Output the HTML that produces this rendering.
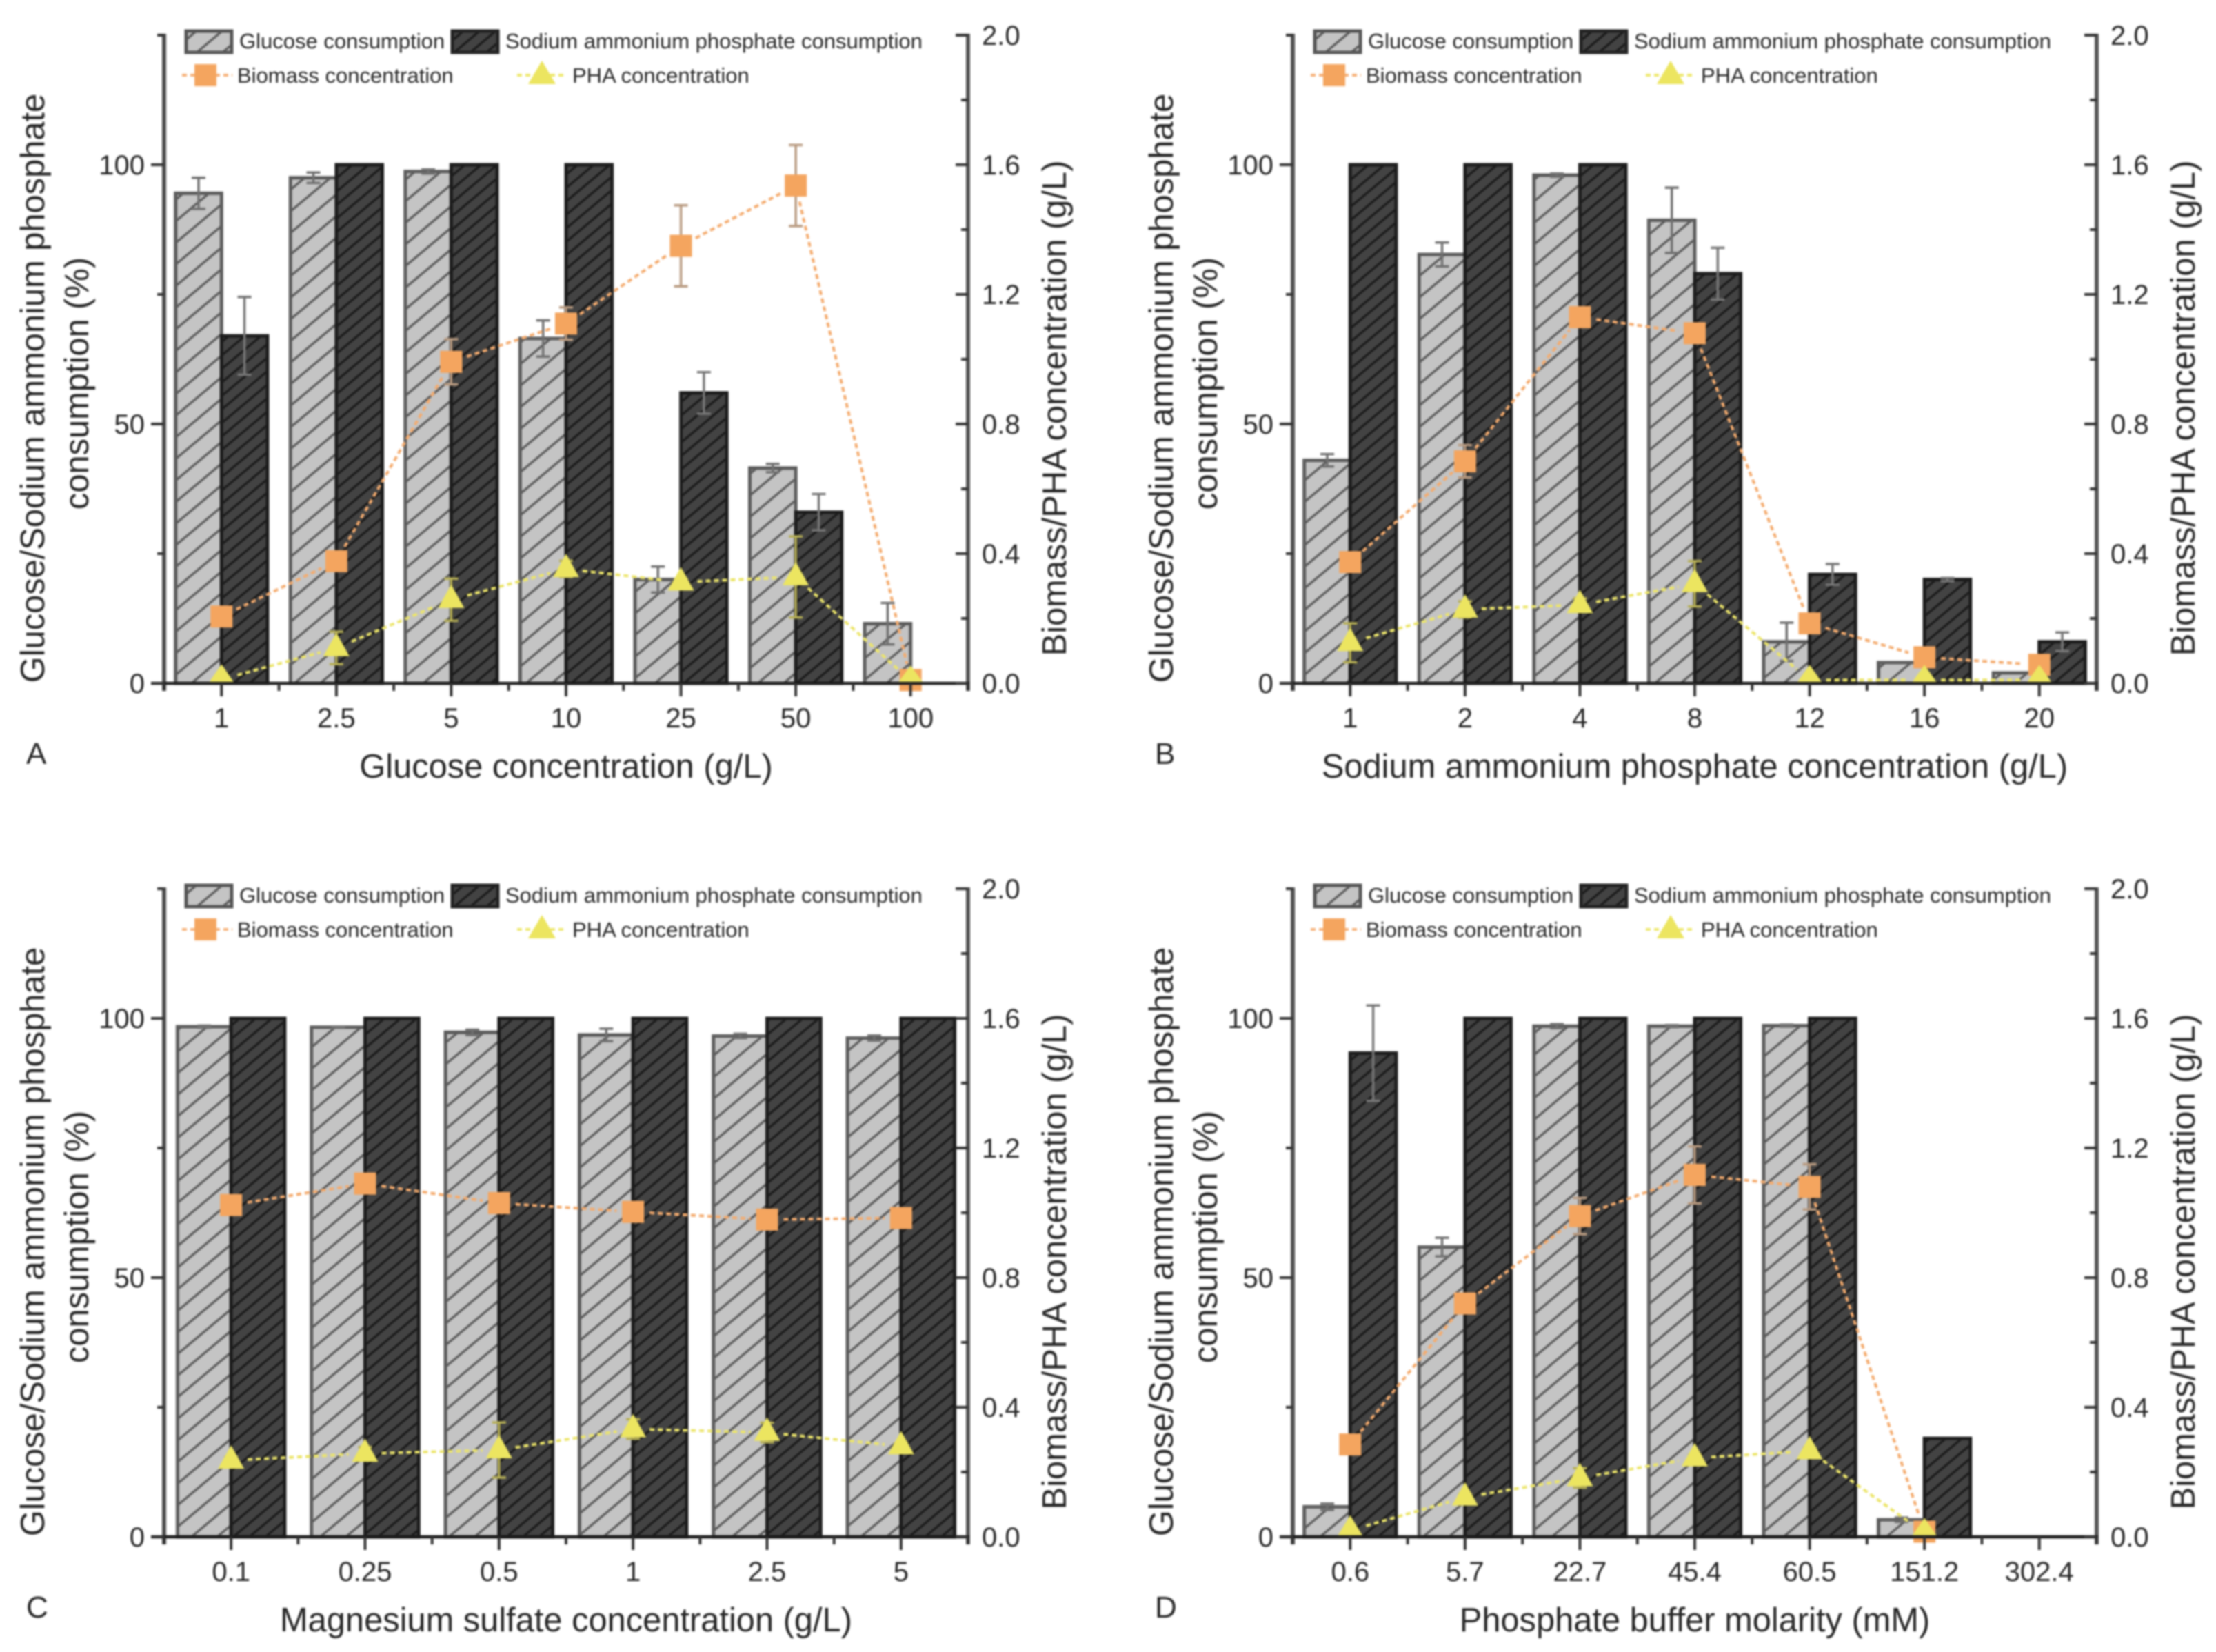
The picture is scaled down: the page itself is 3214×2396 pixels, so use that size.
<!DOCTYPE html>
<html lang="en">
<head>
<meta charset="utf-8">
<title>Consumption and concentration charts</title>
<style>
html,body{margin:0;padding:0;background:#fff;}
svg{display:block;filter:blur(1.2px);}
text{font-family:"Liberation Sans",sans-serif;fill:#262626;}
.tick{font-size:40px;}
.title{font-size:48.8px;}
.leg{font-size:31px;}
.letter{font-size:44px;}
</style>
</head>
<body>
<svg id="figure" xmlns="http://www.w3.org/2000/svg" width="3214" height="2396" viewBox="0 0 3214 2396">
<defs>
<pattern id="hatch-light" patternUnits="userSpaceOnUse" width="24" height="24" patternTransform="rotate(-40)">
<rect width="24" height="24" fill="#c4c4c4"/>
<rect x="0" y="0" width="24" height="3.2" fill="#585858"/>
</pattern>
<pattern id="hatch-dark" patternUnits="userSpaceOnUse" width="15" height="15" patternTransform="rotate(-40)">
<rect width="15" height="15" fill="#434343"/>
<rect x="0" y="0" width="15" height="3.2" fill="#1a1a1a"/>
</pattern>
</defs>
<rect width="3214" height="2396" fill="#fff"/>

<g id="panel-a" transform="translate(0,0)">
<g class="marks"></g>
<text class="title" transform="translate(64,563) rotate(-90)" text-anchor="middle">Glucose/Sodium ammonium phosphate</text>
<text class="title" transform="translate(128,556) rotate(-90)" text-anchor="middle">consumption (%)</text>
<text class="title" transform="translate(1546,592) rotate(-90)" text-anchor="middle">Biomass/PHA concentration (g/L)</text>
<text class="title" x="821" y="1128" text-anchor="middle">Glucose concentration (g/L)</text>
<text class="letter" x="38" y="1108">A</text>
<g>
<rect x="270" y="45" width="66" height="31" fill="url(#hatch-light)" stroke="#555" stroke-width="5"/>
<text class="leg" x="347" y="70">Glucose consumption</text>
<rect x="656" y="45" width="66" height="31" fill="url(#hatch-dark)" stroke="#222" stroke-width="5"/>
<text class="leg" x="733" y="70">Sodium ammonium phosphate consumption</text>
<line x1="264" y1="109" x2="337" y2="109" stroke="#f6b27a" stroke-width="4" stroke-dasharray="7 5"/>
<rect x="282" y="93" width="32" height="32" fill="#f4a55f"/>
<text class="leg" x="344" y="120">Biomass concentration</text>
<line x1="750" y1="109" x2="822" y2="109" stroke="#eee870" stroke-width="4" stroke-dasharray="7 5"/>
<polygon points="786,88 806,122 766,122" fill="#ece560"/>
<text class="leg" x="830" y="120">PHA concentration</text>
</g>
</g>

<g id="panel-b" transform="translate(1637,0)">
<g class="marks"></g>
<text class="title" transform="translate(64,563) rotate(-90)" text-anchor="middle">Glucose/Sodium ammonium phosphate</text>
<text class="title" transform="translate(128,556) rotate(-90)" text-anchor="middle">consumption (%)</text>
<text class="title" transform="translate(1546,592) rotate(-90)" text-anchor="middle">Biomass/PHA concentration (g/L)</text>
<text class="title" x="821" y="1128" text-anchor="middle">Sodium ammonium phosphate concentration (g/L)</text>
<text class="letter" x="38" y="1108">B</text>
<g>
<rect x="270" y="45" width="66" height="31" fill="url(#hatch-light)" stroke="#555" stroke-width="5"/>
<text class="leg" x="347" y="70">Glucose consumption</text>
<rect x="656" y="45" width="66" height="31" fill="url(#hatch-dark)" stroke="#222" stroke-width="5"/>
<text class="leg" x="733" y="70">Sodium ammonium phosphate consumption</text>
<line x1="264" y1="109" x2="337" y2="109" stroke="#f6b27a" stroke-width="4" stroke-dasharray="7 5"/>
<rect x="282" y="93" width="32" height="32" fill="#f4a55f"/>
<text class="leg" x="344" y="120">Biomass concentration</text>
<line x1="750" y1="109" x2="822" y2="109" stroke="#eee870" stroke-width="4" stroke-dasharray="7 5"/>
<polygon points="786,88 806,122 766,122" fill="#ece560"/>
<text class="leg" x="830" y="120">PHA concentration</text>
</g>
</g>

<g id="panel-c" transform="translate(0,1238)">
<g class="marks"></g>
<text class="title" transform="translate(64,563) rotate(-90)" text-anchor="middle">Glucose/Sodium ammonium phosphate</text>
<text class="title" transform="translate(128,556) rotate(-90)" text-anchor="middle">consumption (%)</text>
<text class="title" transform="translate(1546,592) rotate(-90)" text-anchor="middle">Biomass/PHA concentration (g/L)</text>
<text class="title" x="821" y="1128" text-anchor="middle">Magnesium sulfate concentration (g/L)</text>
<text class="letter" x="38" y="1108">C</text>
<g transform="translate(0,1)">
<rect x="270" y="45" width="66" height="31" fill="url(#hatch-light)" stroke="#555" stroke-width="5"/>
<text class="leg" x="347" y="70">Glucose consumption</text>
<rect x="656" y="45" width="66" height="31" fill="url(#hatch-dark)" stroke="#222" stroke-width="5"/>
<text class="leg" x="733" y="70">Sodium ammonium phosphate consumption</text>
<line x1="264" y1="109" x2="337" y2="109" stroke="#f6b27a" stroke-width="4" stroke-dasharray="7 5"/>
<rect x="282" y="93" width="32" height="32" fill="#f4a55f"/>
<text class="leg" x="344" y="120">Biomass concentration</text>
<line x1="750" y1="109" x2="822" y2="109" stroke="#eee870" stroke-width="4" stroke-dasharray="7 5"/>
<polygon points="786,88 806,122 766,122" fill="#ece560"/>
<text class="leg" x="830" y="120">PHA concentration</text>
</g>
</g>

<g id="panel-d" transform="translate(1637,1238)">
<g class="marks"></g>
<text class="title" transform="translate(64,563) rotate(-90)" text-anchor="middle">Glucose/Sodium ammonium phosphate</text>
<text class="title" transform="translate(128,556) rotate(-90)" text-anchor="middle">consumption (%)</text>
<text class="title" transform="translate(1546,592) rotate(-90)" text-anchor="middle">Biomass/PHA concentration (g/L)</text>
<text class="title" x="821" y="1128" text-anchor="middle">Phosphate buffer molarity (mM)</text>
<text class="letter" x="38" y="1108">D</text>
<g transform="translate(0,1)">
<rect x="270" y="45" width="66" height="31" fill="url(#hatch-light)" stroke="#555" stroke-width="5"/>
<text class="leg" x="347" y="70">Glucose consumption</text>
<rect x="656" y="45" width="66" height="31" fill="url(#hatch-dark)" stroke="#222" stroke-width="5"/>
<text class="leg" x="733" y="70">Sodium ammonium phosphate consumption</text>
<line x1="264" y1="109" x2="337" y2="109" stroke="#f6b27a" stroke-width="4" stroke-dasharray="7 5"/>
<rect x="282" y="93" width="32" height="32" fill="#f4a55f"/>
<text class="leg" x="344" y="120">Biomass concentration</text>
<line x1="750" y1="109" x2="822" y2="109" stroke="#eee870" stroke-width="4" stroke-dasharray="7 5"/>
<polygon points="786,88 806,122 766,122" fill="#ece560"/>
<text class="leg" x="830" y="120">PHA concentration</text>
</g>
</g>
</svg>

<script>
// Shared axis labels
const leftTickValues = [0, 50, 100];
const leftMinorValues = [25, 75, 125];
const rightTickLabels = ['0.0', '0.4', '0.8', '1.2', '1.6', '2.0'];
const rightMinorValues = [0.2, 0.6, 1.0, 1.4, 1.8];

// Panel A
const panelACategories = ['1', '2.5', '5', '10', '25', '50', '100'];
const panelAGlucose = [94.5, 97.5, 98.7, 66.5, 20, 41.5, 11.5];
const panelAGlucoseErr = [3, 1, 0.4, 3.5, 2.5, 0.8, 4];
const panelASodium = [67, 100, 100, 100, 56, 33, 0];
const panelASodiumErr = [7.5, 0, 0, 0, 4, 3.5, 0];
const panelABiomass = [0.206, 0.377, 0.992, 1.11, 1.35, 1.536, 0.01];
const panelABiomassErr = [0.03, 0.01, 0.07, 0.05, 0.125, 0.125, 0];
const panelAPha = [0.012, 0.109, 0.258, 0.353, 0.312, 0.328, 0.008];
const panelAPhaErr = [0.01, 0.05, 0.065, 0.025, 0.01, 0.125, 0];

// Panel B
const panelBCategories = ['1', '2', '4', '8', '12', '16', '20'];
const panelBGlucose = [43, 82.7, 98, 89.3, 8, 4, 2];
const panelBGlucoseErr = [1.2, 2.3, 0.3, 6.3, 3.7, 0, 0];
const panelBSodium = [100, 100, 100, 79, 21, 20, 8];
const panelBSodiumErr = [0, 0, 0, 5, 2, 0.3, 1.8];
const panelBBiomass = [0.374, 0.685, 1.13, 1.08, 0.185, 0.08, 0.057];
const panelBBiomassErr = [0, 0.05, 0.01, 0.01, 0.03, 0.01, 0.02];
const panelBPha = [0.125, 0.228, 0.242, 0.307, 0.01, 0.01, 0.01];
const panelBPhaErr = [0.06, 0.025, 0.02, 0.07, 0, 0, 0];

// Panel C
const panelCCategories = ['0.1', '0.25', '0.5', '1', '2.5', '5'];
const panelCGlucose = [98.4, 98.3, 97.3, 96.8, 96.6, 96.2];
const panelCGlucoseErr = [0.2, 0.1, 0.5, 1.2, 0.4, 0.5];
const panelCSodium = [100, 100, 100, 100, 100, 100];
const panelCSodiumErr = [0, 0, 0, 0, 0, 0];
const panelCBiomass = [1.024, 1.09, 1.03, 1.003, 0.979, 0.984];
const panelCBiomassErr = [0.01, 0.01, 0.01, 0.01, 0.01, 0.01];
const panelCPha = [0.236, 0.257, 0.268, 0.333, 0.322, 0.28];
const panelCPhaErr = [0.01, 0.02, 0.085, 0.03, 0.03, 0.01];

// Panel D
const panelDCategories = ['0.6', '5.7', '22.7', '45.4', '60.5', '151.2', '302.4'];
const panelDGlucose = [5.8, 55.9, 98.5, 98.5, 98.6, 3.3, 0];
const panelDGlucoseErr = [0.6, 1.8, 0.4, 0.2, 0.2, 0.4, 0];
const panelDSodium = [93.3, 100, 100, 100, 100, 19, 0];
const panelDSodiumErr = [9.2, 0, 0, 0, 0, 0, 0];
const panelDBiomass = [0.285, 0.72, 0.99, 1.117, 1.08, 0.016, null];
const panelDBiomassErr = [0, 0.015, 0.056, 0.088, 0.07, 0, null];
const panelDPha = [0.02, 0.122, 0.182, 0.243, 0.265, 0.012, null];
const panelDPhaErr = [0.005, 0.01, 0.03, 0.01, 0.01, 0, null];

const SVGNS = 'http://www.w3.org/2000/svg';
const plotLeft = 238, plotRight = 1404, plotBase = 991, plotTop = 51;
const markerGap = 24;
const yLeft = v => plotBase - (v / 125) * (plotBase - plotTop);
const yRight = v => plotBase - (v / 2) * (plotBase - plotTop);

function make(parent, tag, attrs, txt) {
  const n = document.createElementNS(SVGNS, tag);
  for (const k in attrs) n.setAttribute(k, attrs[k]);
  if (txt !== undefined) n.textContent = txt;
  parent.appendChild(n);
  return n;
}

function drawAxisLine(g, x1, y1, x2, y2, color, width, name) {
  const l = make(g, 'line', {x1: x1, y1: y1, x2: x2, y2: y2, stroke: color, 'stroke-width': width});
  
  
  return l;
}

function drawErrorBar(g, x, yTop, yBottom, color, name) {
  const e = make(g, 'path', {
    d: 'M' + (x - 10) + ' ' + yTop + 'H' + (x + 10) + 'M' + x + ' ' + yTop + 'V' + yBottom + 'M' + (x - 10) + ' ' + yBottom + 'H' + (x + 10),
    fill: 'none', stroke: color, 'stroke-width': 3.5
  });
  
  
}

function drawBars(g, values, errs, n, xOf, barW, offset, fill, stroke, errColor, name) {
  values.forEach((v, i) => {
    if (!v) return;
    const x = xOf(i) + offset;
    const r = make(g, 'rect', {x: x, y: yLeft(v), width: barW, height: plotBase - yLeft(v), fill: fill, stroke: stroke, 'stroke-width': 5});
    
    
  });
  values.forEach((v, i) => {
    if (!v || !errs[i]) return;
    const cx = xOf(i) + offset + barW / 2;
    drawErrorBar(g, cx, yLeft(v + errs[i]), yLeft(v - errs[i]), errColor, name + '-error-' + i);
  });
}

function drawSeriesLine(g, values, xOf, color, name) {
  let d = '';
  for (let i = 0; i + 1 < values.length; i++) {
    if (values[i] === null || values[i + 1] === null) continue;
    const x1 = xOf(i), y1 = yRight(values[i]), x2 = xOf(i + 1), y2 = yRight(values[i + 1]);
    const len = Math.hypot(x2 - x1, y2 - y1);
    const ux = (x2 - x1) / len, uy = (y2 - y1) / len;
    d += 'M' + (x1 + ux * markerGap) + ' ' + (y1 + uy * markerGap) + 'L' + (x2 - ux * markerGap) + ' ' + (y2 - uy * markerGap);
  }
  const p = make(g, 'path', {d: d, fill: 'none', stroke: color, 'stroke-width': 4, 'stroke-dasharray': '7 5'});
  
  
}

function drawPanel(id, categories, glucose, glucoseErr, sodium, sodiumErr, biomass, biomassErr, pha, phaErr) {
  const g = document.querySelector('#' + id + ' .marks');
  const n = categories.length;
  const step = (plotRight - plotLeft) / n;
  const xOf = i => plotLeft + (i + 0.5) * step;
  const barW = step * 0.4;

  drawBars(g, glucose, glucoseErr, n, xOf, barW, -barW, 'url(#hatch-light)', '#5c5c5c', '#707070', 'glucose');
  drawBars(g, sodium, sodiumErr, n, xOf, barW, 0, 'url(#hatch-dark)', '#1c1c1c', '#777', 'sodium');

  biomass.forEach((v, i) => {
    if (v === null || !biomassErr[i]) return;
    drawErrorBar(g, xOf(i), yRight(v + biomassErr[i]), yRight(v - biomassErr[i]), '#b89a80', 'biomass-error-' + i);
  });
  pha.forEach((v, i) => {
    if (v === null || !phaErr[i]) return;
    drawErrorBar(g, xOf(i), yRight(v + phaErr[i]), yRight(v - phaErr[i]), '#b5ae55', 'pha-error-' + i);
  });

  drawSeriesLine(g, biomass, xOf, '#f4ab6e', 'biomass');
  drawSeriesLine(g, pha, xOf, '#ece56a', 'pha');

  biomass.forEach((v, i) => {
    if (v === null) return;
    const s = make(g, 'rect', {x: xOf(i) - 16, y: yRight(v) - 16, width: 32, height: 32, fill: '#f4a55f'});
    
    
  });
  pha.forEach((v, i) => {
    if (v === null) return;
    const cx = xOf(i), cy = yRight(v);
    const t = make(g, 'polygon', {
      points: cx + ',' + (cy - 22) + ' ' + (cx + 19) + ',' + Math.min(cy + 12, plotBase) + ' ' + (cx - 19) + ',' + Math.min(cy + 12, plotBase),
      fill: '#ece560'
    });
    
    
  });

  // Axes
  drawAxisLine(g, plotLeft, plotTop - 2, plotLeft, plotBase + 11, '#4f4f4f', 6, 'y-axis-left');
  drawAxisLine(g, plotRight, plotTop - 2, plotRight, plotBase + 11, '#555', 6, 'y-axis-right');
  drawAxisLine(g, plotLeft - 19, plotBase, plotRight + 2, plotBase, '#1c1c1c', 4.5, 'x-axis');

  // Left ticks
  leftTickValues.forEach(v => {
    drawAxisLine(g, plotLeft - 19, yLeft(v), plotLeft, yLeft(v), '#333', 4, 'y-left-tick');
    const t = make(g, 'text', {class: 'tick', x: 210, y: yLeft(v) + 14, 'text-anchor': 'end'}, String(v));
    
    
  });
  leftMinorValues.forEach(v => {
    drawAxisLine(g, plotLeft - 10, yLeft(v), plotLeft, yLeft(v), '#333', 4, 'y-left-minor-tick');
  });

  // Right ticks
  rightTickLabels.forEach(lbl => {
    const v = parseFloat(lbl);
    drawAxisLine(g, plotRight - 18, yRight(v), plotRight, yRight(v), '#333', 4, 'y-right-tick');
    const t = make(g, 'text', {class: 'tick', x: 1424, y: yRight(v) + 14}, lbl);
    
    
  });
  rightMinorValues.forEach(v => {
    drawAxisLine(g, plotRight - 10, yRight(v), plotRight, yRight(v), '#333', 4, 'y-right-minor-tick');
  });

  // Bottom ticks
  categories.forEach((c, i) => {
    drawAxisLine(g, xOf(i), plotBase, xOf(i), plotBase + 19, '#333', 4, 'x-tick');
    const t = make(g, 'text', {class: 'tick', x: xOf(i), y: 1055, 'text-anchor': 'middle'}, c);
    
    
  });
  for (let i = 0; i <= n; i++) {
    const x = plotLeft + i * step;
    drawAxisLine(g, x, plotBase, x, plotBase + 11, '#333', 4, 'x-minor-tick');
  }
}

drawPanel('panel-a', panelACategories, panelAGlucose, panelAGlucoseErr, panelASodium, panelASodiumErr, panelABiomass, panelABiomassErr, panelAPha, panelAPhaErr);
drawPanel('panel-b', panelBCategories, panelBGlucose, panelBGlucoseErr, panelBSodium, panelBSodiumErr, panelBBiomass, panelBBiomassErr, panelBPha, panelBPhaErr);
drawPanel('panel-c', panelCCategories, panelCGlucose, panelCGlucoseErr, panelCSodium, panelCSodiumErr, panelCBiomass, panelCBiomassErr, panelCPha, panelCPhaErr);
drawPanel('panel-d', panelDCategories, panelDGlucose, panelDGlucoseErr, panelDSodium, panelDSodiumErr, panelDBiomass, panelDBiomassErr, panelDPha, panelDPhaErr);
</script>
</body>
</html>
